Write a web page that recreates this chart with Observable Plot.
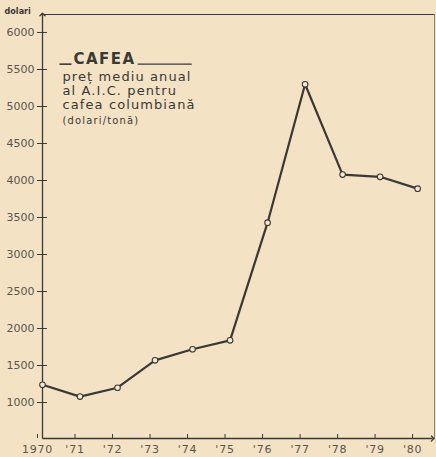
<!DOCTYPE html>
<html>
<head>
<meta charset="utf-8">
<script src="https://cdn.jsdelivr.net/npm/d3@7"></script>
<script src="https://cdn.jsdelivr.net/npm/@observablehq/plot@0.6"></script>
<style>
  html, body { margin: 0; padding: 0; background: #f3e2c3; }
  #chart svg { display: block; }
</style>
</head>
<body>
<div id="chart"></div>
<script>
const years = [1970, 1971, 1972, 1973, 1974, 1975, 1976, 1977, 1978, 1979, 1980];
const prices = [1240, 1080, 1200, 1570, 1720, 1840, 3430, 5300, 4080, 4050, 3890];
const xTickLabels = ["1970", "'71", "'72", "'73", "'74", "'75", "'76", "'77", "'78", "'79", "'80"];
const yTicks = [1000, 1500, 2000, 2500, 3000, 3500, 4000, 4500, 5000, 5500, 6000];
const unitLabel = "dolari";
const titleText = "CAFEA";
const subtitleLines = ["preț mediu anual", "al A.I.C. pentru", "cafea columbiană"];
const unitNote = "(dolari/tonă)";

const data = years.map((year, i) => ({year, price: prices[i]}));
const xDomain = [1970, 1980.45];
const yDomain = [514, 6243];
const ink = "#3b3934";
const labelFont = "'DejaVu Sans', sans-serif";

const chart = Plot.plot({
  width: 436,
  height: 457,
  marginLeft: 42,
  marginRight: 2,
  marginTop: 14,
  marginBottom: 19,
  style: {background: "#f3e2c3", color: ink, fontFamily: labelFont},
  x: {domain: xDomain},
  y: {domain: yDomain},
  marks: [
    Plot.frame({anchor: "top", stroke: ink, strokeWidth: 1.2}),
    Plot.frame({anchor: "right", stroke: "#8a8070", strokeWidth: 1}),
    Plot.link([{}], {x1: xDomain[0], y1: yDomain[0], x2: xDomain[1] - 0.05, y2: yDomain[0], stroke: ink, strokeWidth: 1.3, markerEnd: "arrow"}),
    Plot.link([{}], {x1: xDomain[0], y1: yDomain[0], x2: xDomain[0], y2: yDomain[1], stroke: ink, strokeWidth: 1.3, markerEnd: "arrow"}),
    Plot.axisY({ticks: yTicks, tickSize: 5, tickPadding: 3, fontSize: 11, fill: "#5a5650", tickFormat: d => String(d), label: null, className: "ylab"}),
    Plot.axisY({ticks: yTicks, tickSize: -5, text: null, label: null}),
    Plot.axisX({ticks: years, tickSize: -4, tickPadding: 11, fontSize: 11, fill: "#5a5650", dx: -5, tickFormat: d => xTickLabels[years.indexOf(d)], label: null, className: "xlab"}),
    Plot.line(data, {x: "year", y: "price", stroke: ink, strokeWidth: 2.2}),
    Plot.dot(data, {x: "year", y: "price", r: 2.8, fill: "#f6ead4", stroke: ink, strokeWidth: 1.1}),
    Plot.text([unitLabel], {frameAnchor: "top-left", dx: -38, dy: -7, fontSize: 9, textAnchor: "start", fill: ink, fontWeight: "bold", fontFamily: "'DejaVu Sans Condensed', sans-serif"}),
    Plot.text([titleText], {frameAnchor: "top-left", dx: 31, dy: 39, fontSize: 15, fontWeight: "bold", textAnchor: "start", fill: ink, className: "ttl"}),
    Plot.text([subtitleLines.join("\n")], {frameAnchor: "top-left", dx: 20, dy: 57, lineAnchor: "top", lineHeight: 1.06, fontSize: 13, textAnchor: "start", fill: ink, fontFamily: labelFont, className: "sub"}),
    Plot.text([unitNote], {frameAnchor: "top-left", dx: 20, dy: 102, fontSize: 11, textAnchor: "start", fill: ink, fontFamily: "'DejaVu Sans Condensed', sans-serif", className: "note"})
  ]
});

document.getElementById("chart").appendChild(chart);
const svg = d3.select(chart);
svg.selectAll(".ttl text").style("letter-spacing", "1.5px");
svg.selectAll(".xlab text").style("letter-spacing", "0.8px");
svg.selectAll(".sub text").style("letter-spacing", "1.1px");
svg.selectAll(".note text").style("letter-spacing", "1.2px");
// decorative underline strokes beside the title
const titleNode = svg.select(".ttl text").node();
if (titleNode) {
  const sr = chart.getBoundingClientRect();
  const bb = titleNode.getBoundingClientRect();
  const x0 = bb.left - sr.left, x1 = bb.right - sr.left;
  const yLine = bb.bottom - sr.top - 4;
  svg.append("line").attr("x1", x0 - 14).attr("x2", x0 - 2).attr("y1", yLine).attr("y2", yLine).attr("stroke", ink).attr("stroke-width", 1.6);
  svg.append("line").attr("x1", x1 + 2).attr("x2", x1 + 56).attr("y1", yLine).attr("y2", yLine).attr("stroke", ink).attr("stroke-width", 1.1);
}
</script>
</body>
</html>
